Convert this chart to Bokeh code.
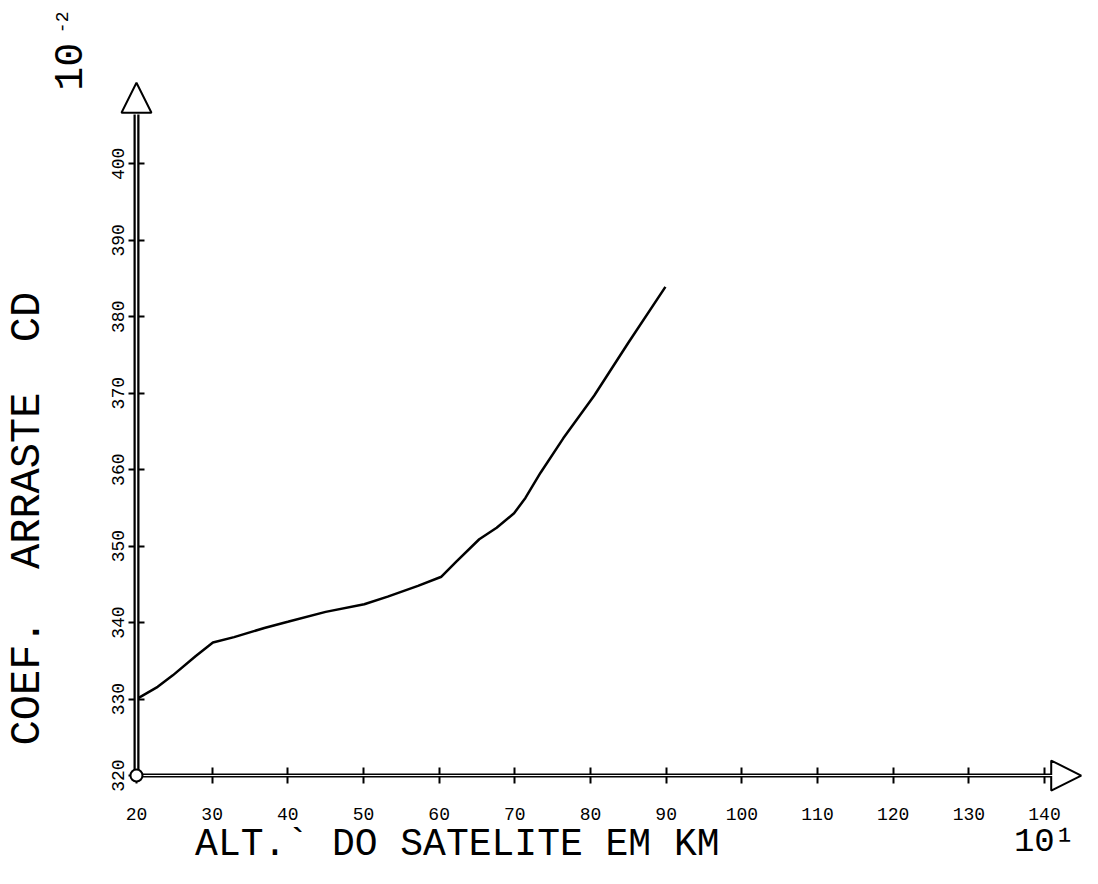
from bokeh.plotting import figure
from bokeh.models import Range1d, FixedTicker, Label, Arrow, NormalHead
from bokeh.embed import file_html
from bokeh.resources import INLINE
import math

# Data (altitude in 10 km, drag coefficient in 1e-2)
altitude = [20, 22.8, 24.8, 27.8, 30.1, 32.9, 36.9, 40.0, 45.0, 50.1, 53.2, 57.2,
            60.3, 62.3, 65.3, 67.6, 69.9, 71.4, 73.4, 76.4, 80.5, 85.0, 89.9]
cd = [330.0, 331.6, 333.1, 335.6, 337.4, 338.1, 339.3, 340.1, 341.4, 342.4, 343.4, 344.8,
      346.0, 348.0, 350.9, 352.4, 354.3, 356.3, 359.6, 364.1, 369.7, 376.6, 383.9]

x_ticks = [20, 30, 40, 50, 60, 70, 80, 90, 100, 110, 120, 130, 140]
y_ticks = [320, 330, 340, 350, 360, 370, 380, 390, 400]

FONT = "Liberation Mono"
NB = "\u00a0"

p = figure(width=1082, height=868, output_backend="svg", toolbar_location=None,
           x_range=Range1d(2.03, 145.02), y_range=Range1d(307.84, 421.36),
           min_border=0)
p.min_border_left = 0
p.min_border_right = 0
p.min_border_top = 0
p.min_border_bottom = 0
p.outline_line_color = None
p.grid.visible = False
p.background_fill_color = "white"
p.border_fill_color = "white"

x0, y0 = x_ticks[0], y_ticks[0]
x_end_axis, y_end_axis = 141.3, 406.5

# axes through the origin
p.xaxis.fixed_location = y0
p.xaxis.bounds = (x0, x_end_axis)
p.xaxis.ticker = FixedTicker(ticks=x_ticks)
p.xaxis.axis_line_width = 4
p.xaxis.major_tick_in = 8
p.xaxis.major_tick_out = 8
p.xaxis.major_tick_line_width = 2
p.xaxis.minor_tick_line_color = None
p.xaxis.major_label_standoff = 24
p.xaxis.major_label_text_font = FONT
p.xaxis.major_label_text_font_size = "18px"
p.xaxis.major_label_text_color = "black"

p.yaxis.fixed_location = x0
p.yaxis.bounds = (y0, y_end_axis)
p.yaxis.ticker = FixedTicker(ticks=y_ticks)
p.yaxis.axis_line_width = 6
p.yaxis.major_tick_in = 8
p.yaxis.major_tick_out = 8
p.yaxis.major_tick_line_width = 2
p.yaxis.minor_tick_line_color = None
p.yaxis.major_label_standoff = 4
p.yaxis.major_label_orientation = "vertical"
p.yaxis.major_label_text_font = FONT
p.yaxis.major_label_text_font_size = "18px"
p.yaxis.major_label_text_color = "black"

# white centre stripe of the double-line axes
p.line([x0, x_end_axis], [y0, y0], line_color="white", line_width=1, level="overlay")
p.line([x0, x0], [y0, y_end_axis], line_color="white", line_width=1.5, level="overlay")

# arrow heads
p.add_layout(Arrow(x_start=138, y_start=y0, x_end=144.85, y_end=y0, line_alpha=0,
                   end=NormalHead(size=30, fill_color="white", line_color="black", line_width=2)))
p.add_layout(Arrow(x_start=x0, y_start=400, x_end=x0, y_end=410.6, line_alpha=0,
                   end=NormalHead(size=30, fill_color="white", line_color="black", line_width=2)))

# data curve
p.line(altitude, cd, line_color="black", line_width=2.5)

# origin circle
p.scatter([x0], [y0], size=12, fill_color="white", line_color="black", line_width=2, level="overlay")

# titles
p.add_layout(Label(x=5.73, y=353.6, text="COEF." + NB + NB + "ARRASTE" + NB + NB + "CD",
                   angle=math.pi / 2,
                   text_align="center", text_baseline="middle", text_font=FONT,
                   text_font_size="42px", text_color="black"))
p.add_layout(Label(x=62.4, y=308.2, text="ALT.` DO SATELITE EM KM",
                   text_align="center", text_baseline="bottom", text_font=FONT,
                   text_font_size="38px", text_color="black"))
p.add_layout(Label(x=140.0, y=308.8, text="10\u00b9", text_align="center", text_baseline="bottom",
                   text_font=FONT, text_font_size="34px", text_color="black"))
p.add_layout(Label(x=11.0, y=412.7, text="10", angle=math.pi / 2, text_align="center",
                   text_baseline="middle", text_font=FONT, text_font_size="40px", text_color="black"))
p.add_layout(Label(x=10.2, y=418.5, text="-2", angle=math.pi / 2, text_align="center",
                   text_baseline="middle", text_font=FONT, text_font_size="18px", text_color="black"))

open("out.html", "w").write(file_html(p, INLINE))
